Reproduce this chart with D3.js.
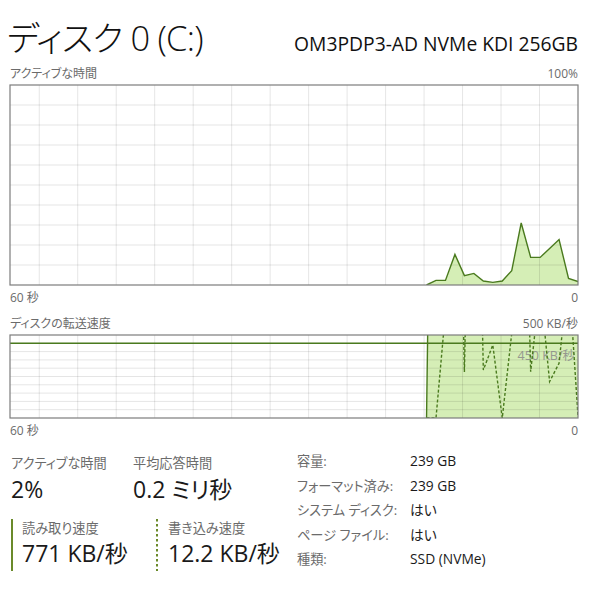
<!DOCTYPE html>
<html><head><meta charset="utf-8">
<script src="https://cdn.jsdelivr.net/npm/d3@7"></script>
<style>
html,body{margin:0;padding:0;background:#fff;}
svg{display:block;font-family:"Open Sans","Noto Sans CJK JP",sans-serif;font-feature-settings:"palt";}
</style></head>
<body><svg id="c" width="599" height="589"></svg>
<script>
// ---- data ----
const secondsAgo = [16,15,14,13,12,11,10,9,8,7,6,5,4,3,2,1,0];
const activeTimePct = [0,2.3,2.3,15.3,4.7,5.8,2,1.3,2,7.2,31,13.8,13.8,18.2,22.7,3.3,1.7];
const readKBs  = [0,4200,3900,3600,4100,3800,3500,3300,3700,4000,3600,3400,3800,3500,3200,2900,771];
const writeKBs = [0,0,640,3000,277,3000,289,440,0,510,2500,279,800,219,330,883,12.2];
const markerKBs = 450;
const timeTicks = ["60 秒","0"];
const activeTicks = ["100%"];
const transferTicks = ["500 KB/秒"];
const markerLabel = "450 KB/秒";
const title = "ディスク 0 (C:)";
const model = "OM3PDP3-AD NVMe KDI 256GB";
const statLabels = ["アクティブな時間","平均応答時間"];
const statValues = ["2%","0.2 ミリ秒"];
const rwLabels = ["読み取り速度","書き込み速度"];
const rwValues = ["771 KB/秒","12.2 KB/秒"];
const propLabels = ["容量:","フォーマット済み:","システム ディスク:","ページ ファイル:","種類:"];
const propValues = ["239 GB","239 GB","はい","はい","SSD (NVMe)"];
const gridStepSec = 4.065;

// ---- style ----
const lineC = "#4a7a1e", fillC = "#d5eeb6", gridC = "rgba(0,0,0,0.10)", borderC = "#7c7c7c";
const labelC = "#6b6b6b", valueC = "#1a1a1a";

const svg = d3.select("#c");
const L = 10, R = 578;
const x = d3.scaleLinear().domain([60,0]).range([L,R]);
const y1 = d3.scaleLinear().domain([0,100]).range([285,85]);
const y2 = d3.scaleLinear().domain([0,500]).range([418,335]);

// title
svg.append("text").attr("x",7).attr("y",51).attr("font-size",34.5).attr("font-weight",300)
  .attr("letter-spacing",-0.8).attr("fill","#111").text(title);
svg.append("text").attr("x",R).attr("y",51).attr("text-anchor","end").attr("font-size",19.3)
  .attr("fill","#111").text(model);

function chart(id, y, topLabel, topTick){
  const [y0,yTop] = y.range();
  svg.append("text").attr("x",L).attr("y",yTop-7).attr("font-size",12).attr("fill",labelC).text(topLabel);
  svg.append("text").attr("x",R).attr("y",yTop-7).attr("font-size",12).attr("text-anchor","end").attr("fill",labelC).text(topTick);
  svg.append("text").attr("x",L).attr("y",y0+17).attr("font-size",12).attr("fill",labelC).text(timeTicks[0]);
  svg.append("text").attr("x",R).attr("y",y0+17).attr("font-size",12).attr("text-anchor","end").attr("fill",labelC).text(timeTicks[1]);
  svg.append("clipPath").attr("id",id).append("rect").attr("x",L).attr("y",yTop).attr("width",R-L).attr("height",y0-yTop);
  return svg.append("g").attr("clip-path",`url(#${id})`);
}
const gridT = d3.range(1,15).map(k=>k*gridStepSec);

// chart 1
const g1 = chart("clip1", y1, "アクティブな時間", activeTicks[0]);
const area1 = d3.area().x((d,i)=>x(secondsAgo[i])).y0(y1(0)).y1(d=>y1(d));
const line1 = d3.line().x((d,i)=>x(secondsAgo[i])).y(d=>y1(d));
g1.append("path").datum(activeTimePct).attr("d",area1).attr("fill",fillC);
g1.selectAll("line.v").data(gridT).join("line").attr("x1",d=>x(d)).attr("x2",d=>x(d))
  .attr("y1",y1(100)).attr("y2",y1(0)).attr("stroke",gridC).attr("stroke-width",1);
g1.selectAll("line.h").data(d3.range(10,100,10)).join("line").attr("x1",L).attr("x2",R)
  .attr("y1",d=>y1(d)).attr("y2",d=>y1(d)).attr("stroke",gridC).attr("stroke-width",1);
g1.append("path").datum(activeTimePct).attr("d",line1).attr("fill","none").attr("stroke",lineC).attr("stroke-width",1.4);
svg.append("rect").attr("x",L).attr("y",y1(100)).attr("width",R-L).attr("height",y1(0)-y1(100)).attr("fill","none").attr("stroke",borderC).attr("stroke-width",1.2);

// chart 2
const g2 = chart("clip2", y2, "ディスクの転送速度", transferTicks[0]);
const area2 = d3.area().x((d,i)=>x(secondsAgo[i])).y0(y2(0)).y1(d=>y2(d));
const line2 = d3.line().x((d,i)=>x(secondsAgo[i])).y(d=>y2(d));
g2.append("path").datum(readKBs).attr("d",area2).attr("fill",fillC);
g2.selectAll("line.v").data(gridT).join("line").attr("x1",d=>x(d)).attr("x2",d=>x(d))
  .attr("y1",y2(500)).attr("y2",y2(0)).attr("stroke",gridC).attr("stroke-width",1);
g2.selectAll("line.h").data(d3.range(50,500,50)).join("line").attr("x1",L).attr("x2",R)
  .attr("y1",d=>y2(d)).attr("y2",d=>y2(d)).attr("stroke",gridC).attr("stroke-width",1);
g2.append("line").attr("x1",L).attr("x2",R).attr("y1",y2(markerKBs)).attr("y2",y2(markerKBs))
  .attr("stroke",lineC).attr("stroke-width",1.4);
g2.append("text").attr("x",575).attr("y",y2(markerKBs)+17).attr("text-anchor","end").attr("font-size",12.5)
  .attr("fill","#8a8a8a").attr("opacity",0.85).text(markerLabel);
g2.append("path").datum(readKBs).attr("d",line2).attr("fill","none").attr("stroke",lineC).attr("stroke-width",1.4);
g2.append("path").datum(writeKBs).attr("d",line2).attr("fill","none").attr("stroke",lineC).attr("stroke-width",1.4).attr("stroke-dasharray","3,2");
svg.append("rect").attr("x",L).attr("y",y2(500)).attr("width",R-L).attr("height",y2(0)-y2(500)).attr("fill","none").attr("stroke",borderC).attr("stroke-width",1.2);

// stats
const sx = [11,133];
statLabels.forEach((t,i)=>{
  svg.append("text").attr("x",sx[i]).attr("y",468).attr("font-size",13.2).attr("fill",labelC).text(t);
  svg.append("text").attr("x",sx[i]).attr("y",498).attr("font-size",23).attr("fill",valueC).text(statValues[i]);
});
const rx = [22,168], barX = [12,157];
rwLabels.forEach((t,i)=>{
  svg.append("line").attr("x1",barX[i]).attr("x2",barX[i]).attr("y1",519).attr("y2",571)
    .attr("stroke","#6a8a2a").attr("stroke-width",2).attr("stroke-dasharray",i===0?null:"2.5,2.5");
  svg.append("text").attr("x",rx[i]).attr("y",533).attr("font-size",13.2).attr("fill",labelC).text(t);
  svg.append("text").attr("x",rx[i]).attr("y",562).attr("font-size",23).attr("fill",valueC).text(rwValues[i]);
});
propLabels.forEach((t,i)=>{
  const yy = 466 + i*24.5;
  svg.append("text").attr("x",297).attr("y",yy).attr("font-size",13.2).attr("fill",labelC).text(t);
  svg.append("text").attr("x",410).attr("y",yy).attr("font-size",13.8).attr("fill",valueC).text(propValues[i]);
});
</script></body></html>
